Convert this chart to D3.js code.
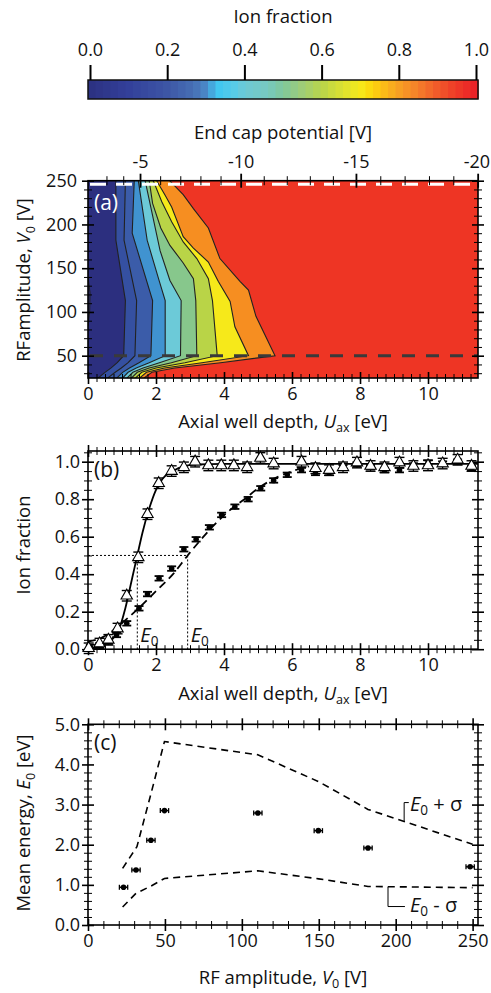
<!DOCTYPE html>
<html><head><meta charset="utf-8">
<script src="https://cdn.jsdelivr.net/npm/d3@7"></script>
<style>
body{margin:0;background:#fff}
svg{display:block}
text{font-family:"Open Sans",Lato,sans-serif;fill:#111}
</style>
</head><body>
<svg id="chart" width="491" height="993"></svg>
<script>
// ---------------- DATA ----------------
// Colour bar
const cbTicks = [0, 0.2, 0.4, 0.6, 0.8, 1.0];
const colorStops = [0, 0.1, 0.2, 0.27, 0.3, 0.33, 0.38, 0.4, 0.46, 0.5, 0.54, 0.6, 0.66, 0.7, 0.73, 0.77, 0.8, 0.85, 0.9, 0.95, 1.0];
const colorStopHex = ['#2c3182','#33409a','#3d56a5','#4770b5','#4b88c8','#3fc6f1','#5ccde6','#6dc9d6','#77c9c0','#80c89a','#99cc80','#b9d54a','#dfe22e','#f6ea1b','#fdd50c','#fbb51b','#f7a023','#f57e2a','#f05a2a','#ed3a27','#ec2027'];

// Panel (a): contour lines (level 0.1 ... 0.9), points [U_ax (eV), V0 (V)] bottom -> top
const contourLevels = [0.1,0.2,0.3,0.4,0.5,0.6,0.7,0.8,0.9];
const bandColors = ['#2c2f7f','#3550a1','#3b5ca9','#4093d0','#6ccad8','#87c78c','#b9d447','#f6e91a','#f68e21','#ee3524'];
const contourLines = [
  [[0.3,24.5],[0.5,31],[0.68,36],[0.86,42],[1.05,50],[1.1,113],[0.82,182],[0.82,250]],
  [[0.58,24.5],[0.8,31],[0.98,36],[1.18,42],[1.38,50],[1.43,113],[1.06,182],[1.1,250]],
  [[0.85,24.5],[1.02,31],[1.22,36],[1.5,42],[1.85,50],[1.9,113],[1.3,190],[1.36,250]],
  [[1.02,24.5],[1.18,31],[1.42,36],[1.8,42],[2.27,50],[2.27,113],[2.09,136],[1.74,182],[1.48,250]],
  [[1.15,24.5],[1.32,31],[1.62,36],[2.1,42],[2.72,50],[2.74,113],[2.41,136],[2.12,170],[1.68,250]],
  [[1.28,24.5],[1.45,31],[1.8,36],[2.45,42],[3.2,50],[3.17,113],[3.1,138],[2.8,156],[2.41,176],[2.14,196],[1.9,224],[1.8,250]],
  [[1.4,24.5],[1.58,31],[2.0,36],[2.85,42],[3.8,50],[3.66,113],[3.54,138],[3.2,161],[2.8,180],[2.46,203],[2.17,226],[1.92,250]],
  [[1.52,24.5],[1.72,31],[2.25,36],[3.35,42],[4.72,50],[4.32,83],[4.18,112],[3.83,135],[3.54,157],[3.1,173],[2.8,186],[2.46,220],[2.26,234],[2.02,250]],
  [[1.65,24.5],[1.88,31],[2.55,36],[3.9,42],[5.5,50],[4.94,95],[4.72,125],[4.47,135],[3.88,161],[3.54,196],[3.1,218],[2.8,234],[2.4,250]]
];
const cutLinesV0 = [246, 50];           // dashed lines in (a): white (top), dark (bottom)
const endcapTicks = [-5, -10, -15, -20];
const endcapPotential = [-1.9, -5, -10, -15, -20];   // V
const endcapDepth = [0, 1.53, 4.49, 7.88, 11.46];    // eV, same positions on the well-depth axis
const uTicks = [0, 2, 4, 6, 8, 10];
const v0Ticks = [50, 100, 150, 200, 250];

// Panel (b)
const triU = [0.02,0.34,0.6,0.87,1.14,1.48,1.75,2.08,2.46,2.82,3.15,3.54,3.92,4.29,4.68,5.07,5.46,6.28,6.69,7.09,7.5,7.91,8.31,8.72,9.16,9.57,10.0,10.43,10.87,11.28];
const triF = [0.005,0.03,0.05,0.11,0.285,0.49,0.72,0.885,0.95,0.97,1.0,0.98,0.98,0.98,0.97,1.02,0.99,1.0,0.965,0.955,0.97,0.995,0.977,0.97,0.995,0.977,0.98,0.99,1.01,0.977];
const dotU = [0.07,0.34,0.6,0.84,1.14,1.5,1.75,2.09,2.46,2.82,3.18,3.57,3.93,4.32,4.71,5.08,5.46,5.86,6.28,6.69,7.09,7.5,7.91,8.31,8.72,9.16,9.57,10.0,10.43,10.87,11.28];
const dotF = [0.012,0.02,0.04,0.076,0.138,0.218,0.294,0.378,0.43,0.533,0.586,0.65,0.716,0.76,0.8,0.858,0.9,0.93,0.955,0.94,0.94,0.97,0.985,0.97,0.955,0.955,0.98,0.995,0.99,1.0,0.965];
const solidCurveU = [0,0.4,0.7,0.9,1.1,1.3,1.45,1.6,1.8,2.0,2.2,2.5,2.8,3.2,4.0,11.47];
const solidCurveF = [0.0,0.02,0.05,0.1,0.22,0.38,0.5,0.62,0.75,0.85,0.91,0.95,0.975,0.985,0.988,0.988];
const dashCurveU = [0,0.5,1.0,1.5,2.0,2.5,2.93,3.3,3.7,4.1,4.6,5.1,5.6,6.1,6.5];
const dashCurveF = [0.04,0.07,0.14,0.22,0.31,0.4,0.5,0.58,0.66,0.73,0.8,0.87,0.92,0.955,0.975];
const e0Values = [1.45, 2.93];
const fracTicks = [0, 0.2, 0.4, 0.6, 0.8, 1.0];

// Panel (c)
const rfV0 = [23.1, 31.2, 40.9, 49.7, 110.4, 149.7, 182, 248.4];
const meanE0 = [0.94, 1.37, 2.11, 2.85, 2.79, 2.35, 1.92, 1.45];
const upperV0 = [22.5, 31.8, 41, 49.7, 110.4, 150, 182, 250];
const upperE = [1.41, 1.95, 3.28, 4.57, 4.24, 3.57, 2.88, 2.01];
const lowerV0 = [22.5, 31.2, 41, 49.7, 110.4, 150, 182, 250];
const lowerE = [0.45, 0.79, 0.97, 1.16, 1.35, 1.15, 0.96, 0.93];
const v0TicksC = [0, 50, 100, 150, 200, 250];
const eTicks = [0, 1, 2, 3, 4, 5];

// ---------------- DRAWING ----------------
const FONT = '"Open Sans", Lato, sans-serif';
const TICKSIZE = 18;
const TITLESIZE = 18.5;
const svg = d3.select('#chart');
const X0 = 88, X1 = 478;
const fmt1 = d3.format('.1f');
const fmtInt = d => String(d);

function mkText(g, x, y, parts, opts) {
  opts = opts || {};
  const size = opts.size || TITLESIZE;
  const t = g.append('text').attr('x', x).attr('y', y)
    .attr('font-size', size)
    .attr('text-anchor', opts.anchor || 'middle');
  if (opts.rotate) t.attr('transform', `rotate(-90,${x},${y})`);
  if (opts.fill) t.style('fill', opts.fill);
  parts.forEach(p => {
    const s = t.append('tspan').text(p.t);
    if (p.i) s.attr('font-style', 'italic');
    if (p.sub) s.attr('font-size', size * 0.68).attr('dy', p.dy || 4);
    if (p.up) s.attr('dy', -(p.up));
  });
  return t;
}

function crossTicks(g, axisFn, scale, vals, len, width, transformOut) {
  [len, -len].forEach(L => {
    const a = g.append('g').attr('transform', transformOut)
      .call(axisFn(scale).tickValues(vals).tickSize(L).tickFormat(''));
    a.select('.domain').remove();
    a.selectAll('line').attr('stroke', '#000').attr('stroke-width', width);
  });
}
function tickLabels(g, axisFn, scale, vals, transformOut, pad, fmt, size) {
  const a = g.append('g').attr('transform', transformOut)
    .call(axisFn(scale).tickValues(vals).tickSize(0).tickPadding(pad).tickFormat(fmt));
  a.select('.domain').remove();
  a.selectAll('text').attr('font-size', size || TICKSIZE).attr('font-family', FONT).style('fill', '#111');
  return a;
}
function minorVals(a, b, step, exclude) {
  const out = [];
  const n = Math.round((b - a) / step);
  for (let i = 0; i <= n; i++) {
    const v = +(a + i * step).toFixed(6);
    if (!exclude || !exclude.some(e => Math.abs(e - v) < 1e-6)) out.push(v);
  }
  return out;
}

// ---- Colour bar ----
const cbScale = d3.scaleLinear().domain([0, 1]).range([90, 476]);
const cbColor = d3.scaleLinear().domain(colorStops).range(colorStopHex).interpolate(d3.interpolateRgb);
const cbG = svg.append('g');
const nSteps = 52;
const stepW = (X1 - X0) / nSteps;
for (let i = 0; i < nSteps; i++) {
  const v = cbScale.invert(X0 + (i + 0.5) * stepW);
  cbG.append('rect').attr('x', X0 + i * stepW).attr('y', 80).attr('width', stepW + 0.6).attr('height', 19)
    .attr('fill', cbColor(Math.max(0, Math.min(1, v))));
}
cbG.append('rect').attr('x', X0).attr('y', 80).attr('width', X1 - X0).attr('height', 19)
  .attr('fill', 'none').attr('stroke', '#111').attr('stroke-width', 1.5);
const cbAx = cbG.append('g').attr('transform', 'translate(0,80)')
  .call(d3.axisTop(cbScale).tickValues(cbTicks).tickSize(15).tickPadding(9).tickFormat(fmt1));
cbAx.select('.domain').remove();
cbAx.selectAll('line').attr('stroke', '#000').attr('stroke-width', 2);
cbAx.selectAll('text').attr('font-size', TICKSIZE).attr('font-family', FONT).style('fill', '#111');
mkText(svg, 283, 23, [{t: 'Ion fraction'}]);

// ---- Panel (a) ----
const yA0 = 180.7, yA1 = 378;
const xA = d3.scaleLinear().domain([0, 11.47]).range([X0, X1]);
const yA = d3.scaleLinear().domain([24.5, 250]).range([yA1, yA0]);
const gA = svg.append('g');
gA.append('clipPath').attr('id', 'clipA').append('rect')
  .attr('x', X0).attr('y', yA0).attr('width', X1 - X0).attr('height', yA1 - yA0);
const plotA = gA.append('g').attr('clip-path', 'url(#clipA)');
plotA.append('rect').attr('x', X0).attr('y', yA0).attr('width', X1 - X0).attr('height', yA1 - yA0)
  .attr('fill', bandColors[9]);
for (let j = contourLines.length - 1; j >= 0; j--) {
  const pts = contourLines[j].map(d => [xA(d[0]), yA(d[1])]);
  pts.push([xA(0) - 2, yA(250) - 2], [xA(0) - 2, yA(24.5) + 2]);
  plotA.append('path').attr('d', 'M' + pts.join('L') + 'Z').attr('fill', bandColors[j]);
}
const lineA = d3.line().x(d => xA(d[0])).y(d => yA(d[1]));
contourLines.forEach(L => {
  plotA.append('path').attr('d', lineA(L)).attr('fill', 'none').attr('stroke', '#222').attr('stroke-width', 1.1);
});
plotA.append('path').attr('d', lineA([[0, 140], [0.06, 122], [0.05, 100], [0, 84]]))
  .attr('fill', 'none').attr('stroke', '#222').attr('stroke-width', 1);
plotA.append('line').attr('x1', X0 + 2).attr('x2', X1).attr('y1', yA(cutLinesV0[0])).attr('y2', yA(cutLinesV0[0]))
  .attr('stroke', '#fff').attr('stroke-width', 3).attr('stroke-dasharray', '16,10');
plotA.append('line').attr('x1', X0 + 2).attr('x2', X1).attr('y1', yA(cutLinesV0[1])).attr('y2', yA(cutLinesV0[1]))
  .attr('stroke', '#3a3a3a').attr('stroke-width', 3).attr('stroke-dasharray', '13,11');
gA.append('rect').attr('x', X0).attr('y', yA0).attr('width', X1 - X0).attr('height', yA1 - yA0)
  .attr('fill', 'none').attr('stroke', '#000').attr('stroke-width', 1.6);
const uMinor = minorVals(0, 11.25, 0.25, uTicks);
crossTicks(gA, d3.axisBottom, xA, uTicks, 6, 1.6, `translate(0,${yA1})`);
crossTicks(gA, d3.axisBottom, xA, uMinor, 4, 1, `translate(0,${yA1})`);
tickLabels(gA, d3.axisBottom, xA, uTicks, `translate(0,${yA1})`, 9, fmtInt);
const v0Minor = minorVals(30, 240, 10, v0Ticks);
crossTicks(gA, d3.axisLeft, yA, v0Ticks, 6, 1.6, `translate(${X0},0)`);
crossTicks(gA, d3.axisLeft, yA, v0Minor, 4, 1, `translate(${X0},0)`);
crossTicks(gA, d3.axisRight, yA, v0Ticks, 6, 1.6, `translate(${X1},0)`);
crossTicks(gA, d3.axisRight, yA, v0Minor, 4, 1, `translate(${X1},0)`);
tickLabels(gA, d3.axisLeft, yA, v0Ticks, `translate(${X0},0)`, 11, fmtInt);
const xEnd = d3.scaleLinear().domain(endcapPotential).range(endcapDepth.map(u => xA(u)));
const endMinor = minorVals(-19, -3, 1, endcapTicks);
crossTicks(gA, d3.axisTop, xEnd, endcapTicks, 7, 1.8, `translate(0,${yA0})`);
crossTicks(gA, d3.axisTop, xEnd, endMinor, 4.5, 1, `translate(0,${yA0})`);
const topLab = tickLabels(gA, d3.axisTop, xEnd, endcapTicks, `translate(0,${yA0})`, 13, fmtInt);
topLab.selectAll('text').filter(d => d === -20).attr('text-anchor', 'end').attr('dx', 12);
mkText(svg, 283, 139, [{t: 'End cap potential [V]'}]);
mkText(svg, 283, 428, [{t: 'Axial well depth, '}, {t: 'U', i: true}, {t: 'ax', sub: true, dy: 4}, {t: ' [eV]', up: 4}]);
mkText(svg, 30, 280, [{t: 'RFamplitude, '}, {t: 'V', i: true}, {t: '0', sub: true, dy: 5}, {t: ' [V]', up: 5}], {rotate: true});
mkText(svg, 94, 210, [{t: '(a)'}], {size: 21, fill: '#fff', anchor: 'start'});

// ---- Panel (b) ----
const yB0 = 451, yB1 = 649.2;
const xB = d3.scaleLinear().domain([0, 11.47]).range([X0, X1]);
const yB = d3.scaleLinear().domain([0, 1.057]).range([yB1, yB0]);
const gB = svg.append('g');
gB.append('rect').attr('x', X0).attr('y', yB0).attr('width', X1 - X0).attr('height', yB1 - yB0)
  .attr('fill', 'none').attr('stroke', '#000').attr('stroke-width', 1.6);
const fMinor = minorVals(0.05, 1.05, 0.05, fracTicks);
crossTicks(gB, d3.axisBottom, xB, uTicks, 6, 1.6, `translate(0,${yB1})`);
crossTicks(gB, d3.axisBottom, xB, uMinor, 4, 1, `translate(0,${yB1})`);
crossTicks(gB, d3.axisTop, xB, uTicks, 6, 1.6, `translate(0,${yB0})`);
crossTicks(gB, d3.axisTop, xB, uMinor, 4, 1, `translate(0,${yB0})`);
crossTicks(gB, d3.axisLeft, yB, fracTicks, 6, 1.6, `translate(${X0},0)`);
crossTicks(gB, d3.axisLeft, yB, fMinor, 4, 1, `translate(${X0},0)`);
crossTicks(gB, d3.axisRight, yB, fracTicks, 6, 1.6, `translate(${X1},0)`);
crossTicks(gB, d3.axisRight, yB, fMinor, 4, 1, `translate(${X1},0)`);
tickLabels(gB, d3.axisBottom, xB, uTicks, `translate(0,${yB1})`, 9, fmtInt);
tickLabels(gB, d3.axisLeft, yB, fracTicks, `translate(${X0},0)`, 8, fmt1);
gB.append('line').attr('x1', xB(0)).attr('x2', xB(e0Values[1])).attr('y1', yB(0.5)).attr('y2', yB(0.5))
  .attr('stroke', '#000').attr('stroke-width', 1).attr('stroke-dasharray', '2,2');
e0Values.forEach(e => {
  gB.append('line').attr('x1', xB(e)).attr('x2', xB(e)).attr('y1', yB(0.5)).attr('y2', yB(0))
    .attr('stroke', '#000').attr('stroke-width', 1).attr('stroke-dasharray', '2,2');
  mkText(gB, xB(e) + 3, yB(0.04), [{t: 'E', i: true}, {t: '0', sub: true, dy: 4}], {size: 20, anchor: 'start'});
});
const lineB = d3.line().x(d => xB(d[0])).y(d => yB(d[1])).curve(d3.curveMonotoneX);
gB.append('path').attr('d', lineB(solidCurveU.map((u, i) => [u, solidCurveF[i]])))
  .attr('fill', 'none').attr('stroke', '#000').attr('stroke-width', 1.8);
gB.append('path').attr('d', lineB(dashCurveU.map((u, i) => [u, dashCurveF[i]])))
  .attr('fill', 'none').attr('stroke', '#000').attr('stroke-width', 1.8).attr('stroke-dasharray', '8,5');
dotU.forEach((u, i) => {
  const cx = xB(u), f = dotF[i];
  const e = 0.012;
  gB.append('line').attr('x1', cx).attr('x2', cx).attr('y1', yB(f - e)).attr('y2', yB(f + e)).attr('stroke', '#000').attr('stroke-width', 1.5);
  [f - e, f + e].forEach(v => gB.append('line').attr('x1', cx - 4.5).attr('x2', cx + 4.5).attr('y1', yB(v)).attr('y2', yB(v)).attr('stroke', '#000').attr('stroke-width', 1.8));
  gB.append('circle').attr('cx', cx).attr('cy', yB(f)).attr('r', 2.8).attr('fill', '#000');
});
const triSym = d3.symbol(d3.symbolTriangle, 56);
triU.forEach((u, i) => {
  const cx = xB(u), f = triF[i];
  const e = 0.028;
  gB.append('line').attr('x1', cx).attr('x2', cx).attr('y1', yB(f - e)).attr('y2', yB(f + e)).attr('stroke', '#000').attr('stroke-width', 1.2);
  [f - e, f + e].forEach(v => gB.append('line').attr('x1', cx - 5).attr('x2', cx + 5).attr('y1', yB(v)).attr('y2', yB(v)).attr('stroke', '#000').attr('stroke-width', 1.4));
  gB.append('path').attr('d', triSym()).attr('transform', `translate(${cx},${yB(f)})`)
    .attr('fill', '#fff').attr('stroke', '#000').attr('stroke-width', 1.1);
});
mkText(svg, 283, 700, [{t: 'Axial well depth, '}, {t: 'U', i: true}, {t: 'ax', sub: true, dy: 4}, {t: ' [eV]', up: 4}]);
mkText(svg, 30, 545, [{t: 'Ion fraction'}], {rotate: true});
mkText(svg, 94, 477, [{t: '(b)'}], {size: 21, anchor: 'start'});

// ---- Panel (c) ----
const yC0 = 724.3, yC1 = 925;
const xC = d3.scaleLinear().domain([0, 253.5]).range([X0, X1]);
const yC = d3.scaleLinear().domain([0, 5]).range([yC1, yC0]);
const gC = svg.append('g');
gC.append('rect').attr('x', X0).attr('y', yC0).attr('width', X1 - X0).attr('height', yC1 - yC0)
  .attr('fill', 'none').attr('stroke', '#000').attr('stroke-width', 1.6);
const vMinorC = minorVals(10, 250, 10, v0TicksC);
const eMinor = minorVals(0.2, 4.8, 0.2, eTicks);
crossTicks(gC, d3.axisBottom, xC, v0TicksC, 6, 1.6, `translate(0,${yC1})`);
crossTicks(gC, d3.axisBottom, xC, vMinorC, 4, 1, `translate(0,${yC1})`);
crossTicks(gC, d3.axisTop, xC, v0TicksC, 6, 1.6, `translate(0,${yC0})`);
crossTicks(gC, d3.axisTop, xC, vMinorC, 4, 1, `translate(0,${yC0})`);
crossTicks(gC, d3.axisLeft, yC, eTicks, 6, 1.6, `translate(${X0},0)`);
crossTicks(gC, d3.axisLeft, yC, eMinor, 4, 1, `translate(${X0},0)`);
crossTicks(gC, d3.axisRight, yC, eTicks, 6, 1.6, `translate(${X1},0)`);
crossTicks(gC, d3.axisRight, yC, eMinor, 4, 1, `translate(${X1},0)`);
tickLabels(gC, d3.axisBottom, xC, v0TicksC, `translate(0,${yC1})`, 9, fmtInt);
tickLabels(gC, d3.axisLeft, yC, eTicks, `translate(${X0},0)`, 8, fmt1);
const lineC = d3.line().x(d => xC(d[0])).y(d => yC(d[1]));
gC.append('path').attr('d', lineC(upperV0.map((v, i) => [v, upperE[i]])))
  .attr('fill', 'none').attr('stroke', '#000').attr('stroke-width', 1.6).attr('stroke-dasharray', '7,5');
gC.append('path').attr('d', lineC(lowerV0.map((v, i) => [v, lowerE[i]])))
  .attr('fill', 'none').attr('stroke', '#000').attr('stroke-width', 1.6).attr('stroke-dasharray', '7,5');
rfV0.forEach((v, i) => {
  const cy = yC(meanE0[i]);
  gC.append('line').attr('x1', xC(v - 2.7)).attr('x2', xC(v + 2.7)).attr('y1', cy).attr('y2', cy).attr('stroke', '#000').attr('stroke-width', 1.4);
  [v - 2.7, v + 2.7].forEach(x => gC.append('line').attr('x1', xC(x)).attr('x2', xC(x)).attr('y1', cy - 2.5).attr('y2', cy + 2.5).attr('stroke', '#000').attr('stroke-width', 1.3));
  gC.append('circle').attr('cx', xC(v)).attr('cy', cy).attr('r', 2.8).attr('fill', '#000');
});
gC.append('path').attr('d', `M${xC(205.5)},${yC(2.58)}V${yC(3.05)}H${xC(208.5)}`)
  .attr('fill', 'none').attr('stroke', '#000').attr('stroke-width', 1);
gC.append('path').attr('d', `M${xC(195)},${yC(0.95)}V${yC(0.46)}H${xC(206)}`)
  .attr('fill', 'none').attr('stroke', '#000').attr('stroke-width', 1);
mkText(gC, 410, 811, [{t: 'E', i: true}, {t: '0', sub: true, dy: 4}, {t: ' + σ', up: 4}], {size: 20, anchor: 'start'});
mkText(gC, 410, 912, [{t: 'E', i: true}, {t: '0', sub: true, dy: 4}, {t: ' - σ', up: 4}], {size: 20, anchor: 'start'});
mkText(svg, 283, 984, [{t: 'RF amplitude, '}, {t: 'V', i: true}, {t: '0', sub: true, dy: 4}, {t: ' [V]', up: 4}]);
mkText(svg, 30, 823, [{t: 'Mean energy, '}, {t: 'E', i: true}, {t: '0', sub: true, dy: 5}, {t: ' [eV]', up: 5}], {rotate: true});
mkText(svg, 94, 750, [{t: '(c)'}], {size: 21, anchor: 'start'});
</script>
</body></html>
